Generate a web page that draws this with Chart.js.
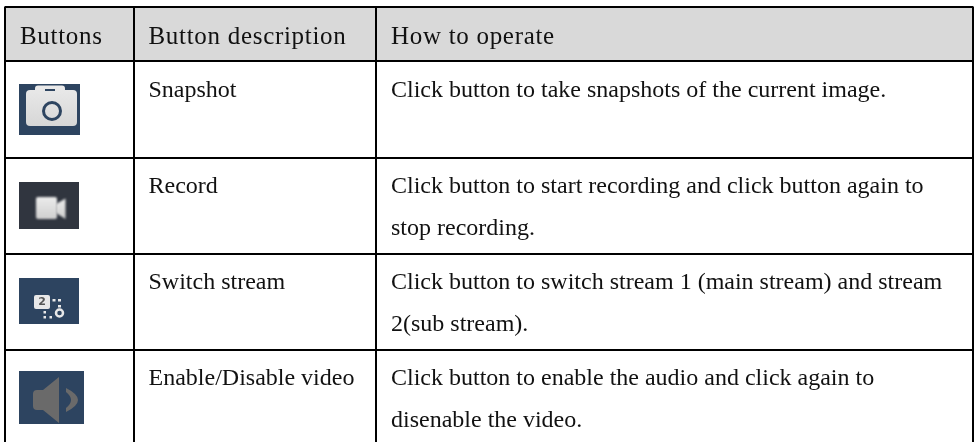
<!DOCTYPE html>
<html>
<head>
<meta charset="utf-8">
<style>
  html, body { margin: 0; padding: 0; background: #fff; }
  #wrap { width: 977px; height: 442px; position: relative; }
</style>
</head>
<body>
<div id="wrap"><canvas id="table"></canvas></div>
<script src="https://cdn.jsdelivr.net/npm/chart.js@4"></script>
<script>
const headers = ["Buttons", "Button description", "How to operate"]
const buttonNames = ["Snapshot", "Record", "Switch stream", "Enable/Disable video"]
const howToOperate = [
  ["Click button to take snapshots of the current image."],
  ["Click button to start recording and click button again to", "stop recording."],
  ["Click button to switch stream 1 (main stream) and stream", "2(sub stream)."],
  ["Click button to enable the audio and click again to", "disenable the video."],
]

// table rules, these become the ticks of the two axes
const columnEdges = [5, 133.5, 375.5, 973]
const rowEdges = [6.5, 61.5, 157.5, 254, 350]

const cellLeft = [20, 148.5, 391]
const rowTextY = [97, 193, 289, 385]
const lineGap = 42

const BLUE = "#2d4460"

const roundRect = (ctx, x, y, w, h, r) => {
  ctx.beginPath()
  ctx.roundRect(x, y, w, h, r)
  ctx.fill()
}

const icons = [
  // camera
  (ctx, px) => {
    ctx.fillStyle = BLUE
    ctx.fillRect(px(19), 84, 61, 51)
    ctx.filter = "blur(0.7px)"
    const g = ctx.createLinearGradient(0, 88, 0, 127)
    g.addColorStop(0, "#e9e9e9")
    g.addColorStop(1, "#d6d6d6")
    ctx.fillStyle = g
    roundRect(ctx, px(26), 90, 51, 36, 4)
    roundRect(ctx, px(35), 85.5, 30, 8, 3)
    ctx.fillStyle = BLUE
    ctx.fillRect(px(45), 89, 10, 2)
    ctx.strokeStyle = BLUE
    ctx.lineWidth = 3
    ctx.beginPath()
    ctx.arc(px(52), 111, 8.5, 0, Math.PI * 2)
    ctx.stroke()
    ctx.filter = "none"
  },
  // video camera
  (ctx, px) => {
    ctx.fillStyle = "#30353f"
    ctx.fillRect(px(19), 182, 60, 47)
    ctx.filter = "blur(0.8px)"
    const g = ctx.createLinearGradient(0, 197, 0, 219)
    g.addColorStop(0, "#ececec")
    g.addColorStop(1, "#cfcfcf")
    ctx.fillStyle = g
    roundRect(ctx, px(36), 197, 21, 22, 2)
    ctx.beginPath()
    ctx.moveTo(px(56), 204)
    ctx.lineTo(px(65.5), 198.5)
    ctx.lineTo(px(65.5), 219)
    ctx.lineTo(px(56), 213)
    ctx.fill()
    ctx.filter = "none"
  },
  // stream switch
  (ctx, px) => {
    ctx.fillStyle = BLUE
    ctx.fillRect(px(19), 278, 60, 46)
    ctx.filter = "blur(0.5px)"
    ctx.fillStyle = "#e8e8e8"
    roundRect(ctx, px(34), 295, 16, 14, 2)
    ctx.fillRect(px(52.5), 299, 3, 2.5)
    ctx.fillRect(px(58), 299, 3, 2.5)
    ctx.fillRect(px(58), 305, 3, 2.5)
    ctx.fillRect(px(43.5), 311, 2.5, 2.5)
    ctx.fillRect(px(43.5), 316, 2.5, 2.5)
    ctx.fillRect(px(49.5), 316, 2.5, 2.5)
    ctx.strokeStyle = "#e8e8e8"
    ctx.lineWidth = 2.5
    ctx.beginPath()
    ctx.arc(px(59.5), 313, 3.5, 0, Math.PI * 2)
    ctx.stroke()
    ctx.fillStyle = "#555"
    ctx.font = "bold 11px 'DejaVu Sans'"
    ctx.textAlign = "center"
    ctx.textBaseline = "middle"
    ctx.fillText("2", px(42), 302)
    ctx.filter = "none"
  },
  // speaker
  (ctx, px) => {
    ctx.fillStyle = BLUE
    ctx.fillRect(px(19), 371, 65, 53)
    ctx.filter = "blur(0.7px)"
    ctx.fillStyle = "#6a6a6a"
    ctx.beginPath()
    ctx.moveTo(px(59), 377)
    ctx.lineTo(px(59), 423)
    ctx.lineTo(px(43), 410)
    ctx.lineTo(px(37), 410)
    ctx.quadraticCurveTo(px(33), 410, px(33), 406)
    ctx.lineTo(px(33), 394)
    ctx.quadraticCurveTo(px(33), 390, px(37), 390)
    ctx.lineTo(px(43), 390)
    ctx.closePath()
    ctx.fill()
    ctx.beginPath()
    ctx.moveTo(px(66), 388)
    ctx.quadraticCurveTo(px(90), 400, px(66), 412)
    ctx.lineTo(px(66), 408)
    ctx.quadraticCurveTo(px(76), 400, px(66), 392)
    ctx.closePath()
    ctx.fill()
    ctx.filter = "none"
  },
]

const tablePlugin = {
  id: "tablePlugin",
  beforeDatasetsDraw(chart) {
    const { ctx, scales: { x, y } } = chart
    const px = v => x.getPixelForValue(v)
    const py = v => y.getPixelForValue(v)

    ctx.save()
    ctx.textBaseline = "alphabetic"
    ctx.textAlign = "left"
    ctx.fillStyle = "#111"

    ctx.font = "25px 'Liberation Serif'"
    ctx.letterSpacing = "0.7px"
    headers.forEach((h, i) => ctx.fillText(h, px(cellLeft[i]), py(43.5)))

    ctx.font = "24px 'Liberation Serif'"
    ctx.letterSpacing = "0px"
    buttonNames.forEach((name, i) => ctx.fillText(name, px(cellLeft[1]), py(rowTextY[i])))
    howToOperate.forEach((lines, i) => {
      lines.forEach((line, j) => ctx.fillText(line, px(cellLeft[2]), py(rowTextY[i] + j * lineGap)))
    })
    ctx.restore()

    icons.forEach(draw => {
      ctx.save()
      draw(ctx, px)
      ctx.restore()
    })
  },
  beforeDraw(chart) {
    // grey header band sits under the grid lines
    const { ctx, scales: { x, y } } = chart
    ctx.fillStyle = "#d9d9d9"
    ctx.fillRect(
      x.getPixelForValue(columnEdges[0]),
      y.getPixelForValue(rowEdges[0]),
      x.getPixelForValue(columnEdges[3]) - x.getPixelForValue(columnEdges[0]),
      y.getPixelForValue(rowEdges[1]) - y.getPixelForValue(rowEdges[0]),
    )
  },
}

const ruleAxis = (min, max, edges, reverse) => ({
  type: "linear",
  min: min,
  max: max,
  reverse: reverse,
  border: { display: false },
  grid: { color: "#000", lineWidth: 2, drawTicks: false },
  ticks: { display: false },
  afterBuildTicks: axis => {
    axis.ticks = edges.map(value => ({ value }))
  },
})

new Chart(document.getElementById("table"), {
  type: "scatter",
  data: { datasets: [{ data: [] }] },
  options: {
    responsive: true,
    maintainAspectRatio: false,
    animation: false,
    layout: { padding: { left: 5, right: 4, top: 6.5, bottom: 0 } },
    scales: {
      x: ruleAxis(5, 973, columnEdges, false),
      y: ruleAxis(6.5, 442, rowEdges, true),
    },
    plugins: { legend: { display: false }, tooltip: { enabled: false } },
  },
  plugins: [tablePlugin],
})
</script>
</body>
</html>
